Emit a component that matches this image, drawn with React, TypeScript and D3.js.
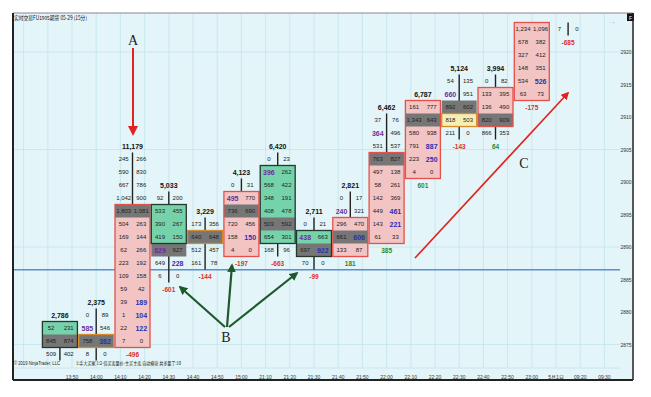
import React from "react";
import * as d3 from "d3";

// ---------- data ----------
const timeLabels = ["13:50","14:00","14:10","14:20","14:30","14:40","14:50","15:00","21:10","21:20","21:30","21:40","21:50","22:00","22:10","22:20","22:30","22:40","22:50","23:00","5月1日","09:20","09:30"];
const priceTicks = [2920, 2915, 2910, 2905, 2900, 2895, 2890, 2885, 2880, 2875];
const gridPrices = [2920, 2905, 2890, 2875];
const refLinePrice = 2886.5;
const tickSize = 2;

const barTimes = ["13:45","14:00","14:15","14:30","14:45","15:00","21:15","21:30","21:45","22:00","22:15","22:30","22:45","23:00","23:15"];
const barTotals: (number | null)[] = [2786, 2375, 11179, 5033, 3229, 4123, 6420, 2711, 2821, 6462, 6787, 5124, 3994, null, null];
const barTopPrices = [2878, 2880, 2904, 2898, 2894, 2900, 2904, 2894, 2898, 2910, 2912, 2916, 2916, 2924, 2924];
const barBids = [
  [52, 845, 509],
  [0, 585, 758, 8],
  [245, 590, 667, 1042, 1803, 504, 169, 62, 223, 109, 59, 39, 1, 22, 7],
  [92, 533, 390, 419, 829, 649, 6],
  [173, 640, 512, 161],
  [0, 495, 736, 720, 158, 4],
  [0, 396, 568, 348, 408, 503, 654, 168],
  [0, 438, 697, 70],
  [0, 240, 296, 661, 133],
  [37, 364, 531, 763, 497, 58, 142, 449, 143, 61],
  [161, 1343, 580, 791, 223, 4],
  [54, 660, 892, 818, 211],
  [0, 133, 136, 820, 866],
  [1234, 678, 327, 148, 534, 63],
  [7],
];
const barAsks = [
  [231, 874, 402],
  [89, 546, 382, 0],
  [266, 830, 786, 900, 1081, 263, 144, 266, 192, 158, 42, 189, 104, 122, 0],
  [200, 455, 267, 150, 927, 228, 0],
  [356, 648, 457, 78],
  [31, 770, 690, 456, 150, 0],
  [23, 262, 422, 191, 478, 592, 301, 96],
  [21, 663, 922, 0],
  [17, 321, 470, 606, 87],
  [76, 496, 537, 827, 138, 261, 369, 461, 221, 33],
  [777, 643, 938, 887, 250, 0],
  [135, 951, 602, 503, 0],
  [82, 395, 490, 909, 353],
  [1096, 382, 412, 351, 526, 73],
  [0],
];
const bodyHigh: (number | null)[] = [2878, 2876, 2896, 2896, 2892, 2898, 2902, 2892, 2894, 2904, 2912, 2910, 2914, 2924, null];
const bodyLow: (number | null)[] = [2876, 2876, 2876, 2892, 2892, 2890, 2892, 2890, 2890, 2892, 2902, 2910, 2910, 2914, null];
const bodyKind = ["up","doji","down","up","doji","down","up","up","down","down","down","doji","down","down","none"];
const pocPrices: (number | null)[] = [2876, 2876, 2896, 2890, 2892, 2896, 2894, 2890, 2892, 2904, 2910, 2912, 2910, null, null];
const barDeltas: (number | null)[] = [null, null, -496, -601, -144, -197, -663, -99, 181, 385, 601, -143, 64, -175, -685];
const bidImbalances: number[][] = [[], [2878], [], [2890], [], [2898], [2902], [2892], [2896], [2908], [], [2914], [], [], []];
const askImbalances: number[][] = [[], [2876], [2882, 2880, 2878], [2888], [], [2892], [], [2890], [2892], [2896, 2894], [2906, 2904], [], [], [2916], []];

// ---------- layout ----------
const W = 651, H = 397;
const P = { left: 13, top: 13, right: 633, bottom: 380 };
const plotRight = 620;
const rowH = 13;
const halfW = 17.5;

const x = d3.scaleLinear().domain([0, 22]).range([72, 604.4]);
const y = d3.scaleLinear().domain([2920, 2875]).range([55, 347.5]);
const labelShift = -3;

function slotOf(t: string) {
  const [h, m] = t.split(":").map(Number);
  const mins = h * 60 + m;
  if (mins <= 900) return (mins - 830) / 10;
  return 8 + (mins - 1270) / 10;
}

const fmt = d3.format(",");
const NUM_FONT = "'Liberation Sans', Arial, sans-serif";

const colors = {
  bg: "#e3f5f8",
  grid: "#c4e5ec",
  pink: "#f3c4c4",
  pinkStroke: "#e4514a",
  green: "#76d2aa",
  greenStroke: "#24382e",
  yellow: "#f6efb4",
  doji: "#d68a2c",
  poc: "#767676",
  text: "#222",
  purple: "#6b2fa0",
  blue: "#2b2fb5",
  red: "#e02d2d",
  darkGreen: "#2b8a2b",
};

export default function App() {
  const bars = barTimes.map((t, j) => {
    const cx = x(slotOf(t));
    const top = barTopPrices[j];
    const rows = barBids[j].map((b, i) => ({ price: top - i * tickSize, bid: b, ask: barAsks[j][i] }));
    const bottom = rows[rows.length - 1].price;
    return { j, cx, top, bottom, rows };
  });

  return (
    <svg width={W} height={H} style={{ position: "absolute", left: 0, top: 0, background: "#fff" }}>
      <defs>
        <clipPath id="plot">
          <rect x={P.left} y={P.top} width={P.right - P.left} height={P.bottom - P.top} />
        </clipPath>
        <marker id="ahRed" viewBox="0 0 10 10" refX="8" refY="5" markerWidth="5" markerHeight="5" orient="auto">
          <path d="M0,0 L10,5 L0,10 z" fill="#e3211f" />
        </marker>
        <marker id="ahGreen" viewBox="0 0 10 10" refX="8" refY="5" markerWidth="4" markerHeight="4" orient="auto">
          <path d="M0,0 L10,5 L0,10 z" fill="#1c5a2c" />
        </marker>
      </defs>
      <rect x={P.left} y={P.top} width={P.right - P.left} height={P.bottom - P.top} fill={colors.bg} />
      <g clipPath="url(#plot)">
        {/* vertical grid */}
        {d3.range(-2, 23).map((i) => (
          <line key={"vg" + i} x1={x(i)} x2={x(i)} y1={P.top} y2={368} stroke={colors.grid} strokeWidth={0.8} />
        ))}
        {gridPrices.map((p) => (
          <line key={"hg" + p} x1={P.left} x2={plotRight} y1={y(p) + labelShift} y2={y(p) + labelShift} stroke={colors.grid} strokeWidth={0.8} />
        ))}
        <line x1={P.left} x2={plotRight} y1={368} y2={368} stroke={colors.grid} strokeWidth={0.8} />
        {/* reference line */}
        <line x1={P.left} x2={plotRight} y1={y(refLinePrice) + labelShift} y2={y(refLinePrice) + labelShift} stroke="#5d8fcf" strokeWidth={1.4} />

        {/* wicks */}
        {bars.map((b) => (
          <line key={"w" + b.j} x1={b.cx} x2={b.cx} y1={y(b.top) - rowH / 2} y2={y(b.bottom) + rowH / 2} stroke="#222" strokeWidth={1.4} />
        ))}
        {/* body fills */}
        {bars.map((b) => {
          const k = bodyKind[b.j];
          if (k === "none" || bodyHigh[b.j] == null) return null;
          const fill = k === "up" ? colors.green : k === "down" ? colors.pink : colors.yellow;
          return (
            <rect key={"bf" + b.j} x={b.cx - halfW} y={y(bodyHigh[b.j]!) - rowH / 2} width={halfW * 2}
              height={y(bodyLow[b.j]!) - y(bodyHigh[b.j]!) + rowH} fill={fill} />
          );
        })}
        {/* POC rows */}
        {bars.map((b) => pocPrices[b.j] == null ? null : (
          <rect key={"poc" + b.j} x={b.cx - halfW} y={y(pocPrices[b.j]!) - rowH / 2} width={halfW * 2} height={rowH} fill={colors.poc} />
        ))}
        {/* body strokes */}
        {bars.map((b) => {
          const k = bodyKind[b.j];
          if (k === "none" || bodyHigh[b.j] == null) return null;
          const stroke = k === "up" ? colors.greenStroke : k === "down" ? colors.pinkStroke : colors.doji;
          return (
            <rect key={"bs" + b.j} x={b.cx - halfW} y={y(bodyHigh[b.j]!) - rowH / 2} width={halfW * 2}
              height={y(bodyLow[b.j]!) - y(bodyHigh[b.j]!) + rowH} fill="none" stroke={stroke} strokeWidth={1.3} />
          );
        })}
        {/* numbers */}
        {bars.map((b) => (
          <g key={"n" + b.j} fontFamily={NUM_FONT}>
            {b.rows.map((r) => {
              const bi = bidImbalances[b.j].includes(r.price);
              const ai = askImbalances[b.j].includes(r.price);
              return (
                <g key={r.price}>
                  <text x={b.cx - 8.8} y={y(r.price)} textAnchor="middle" dominantBaseline="central"
                    fontSize={bi ? 7 : 6} fontWeight={bi ? "bold" : "normal"} fill={bi ? colors.purple : colors.text}>{fmt(r.bid)}</text>
                  <text x={b.cx + 8.8} y={y(r.price)} textAnchor="middle" dominantBaseline="central"
                    fontSize={ai ? 7 : 6} fontWeight={ai ? "bold" : "normal"} fill={ai ? colors.blue : colors.text}>{fmt(r.ask)}</text>
                </g>
              );
            })}
            {barTotals[b.j] != null && (
              <text x={b.cx} y={y(b.top + tickSize)} textAnchor="middle" dominantBaseline="central" fontSize={7} fontWeight="bold" fill="#111">{fmt(barTotals[b.j]!)}</text>
            )}
            {barDeltas[b.j] != null && (
              <text x={b.cx} y={y(b.bottom - tickSize)} textAnchor="middle" dominantBaseline="central" fontSize={6.5} fontWeight="bold"
                fill={barDeltas[b.j]! < 0 ? colors.red : colors.darkGreen}>{barDeltas[b.j]}</text>
            )}
          </g>
        ))}

        {/* annotations */}
        <text x={133} y={45} textAnchor="middle" fontFamily="'Liberation Serif', serif" fontSize={14} fill="#222">A</text>
        <line x1={133} y1={48} x2={133} y2={134} stroke="#e3211f" strokeWidth={2} markerEnd="url(#ahRed)" />
        <text x={226} y={342} textAnchor="middle" fontFamily="'Liberation Serif', serif" fontSize={14} fill="#222">B</text>
        <line x1={225} y1={327} x2={180} y2={287} stroke="#1c5a2c" strokeWidth={2.2} markerEnd="url(#ahGreen)" />
        <line x1={227} y1={327} x2={232} y2={265} stroke="#1c5a2c" strokeWidth={2.2} markerEnd="url(#ahGreen)" />
        <line x1={229} y1={327} x2={297} y2={273} stroke="#1c5a2c" strokeWidth={2.2} markerEnd="url(#ahGreen)" />
        <text x={524} y={168} textAnchor="middle" fontFamily="'Liberation Serif', serif" fontSize={14} fill="#222">C</text>
        <line x1={415} y1={258} x2={568} y2={93} stroke="#e3211f" strokeWidth={1.6} markerEnd="url(#ahRed)" />

        {/* title & footer */}
        <text x={14} y={20} fontFamily="'Noto Sans CJK SC', sans-serif" fontSize={5.5} textLength={73} lengthAdjust="spacingAndGlyphs" fill="#111">实时交易FU1905期货 05-29 (15分)</text>
        <text x={14} y={365} fontFamily={NUM_FONT} fontSize={5} textLength={46} lengthAdjust="spacingAndGlyphs" fill="#222">© 2019 NinjaTrader, LLC</text>
        <text x={76} y={365} fontFamily="'Noto Sans CJK SC', sans-serif" fontSize={5} textLength={105} lengthAdjust="spacingAndGlyphs" fill="#222">1:手大买家 1:2-倍买卖量价-主买主卖 自动横块 共多量了:10</text>
        <text x={612} y={24} textAnchor="middle" fontFamily={NUM_FONT} fontSize={8} fill="#b8c8cc">→</text>
      </g>

      {/* axes labels */}
      {priceTicks.map((p) => (
        <text key={"pt" + p} x={626} y={y(p) + labelShift} textAnchor="middle" dominantBaseline="central" fontFamily={NUM_FONT} fontSize={5} fill="#333">{p}</text>
      ))}
      {timeLabels.map((t, i) => (
        <text key={"tl" + i} x={x(i)} y={377} textAnchor="middle" dominantBaseline="central" fontFamily={NUM_FONT} fontSize={5} fill="#333">{t}</text>
      ))}
      <rect x={627} y={13} width={7} height={8} fill="#111" />
      <text x={630.5} y={17.5} textAnchor="middle" dominantBaseline="central" fontFamily={NUM_FONT} fontSize={5} fill="#fff">F</text>

      {/* frame */}
      <line x1={P.left} x2={P.right} y1={P.top} y2={P.top} stroke="#888" strokeWidth={1} />
      <line x1={P.left} x2={P.left} y1={P.top} y2={P.bottom} stroke="#222" strokeWidth={2} />
      <line x1={P.left} x2={P.right} y1={P.bottom} y2={P.bottom} stroke="#222" strokeWidth={2} />
      <line x1={P.right} x2={P.right} y1={P.top} y2={P.bottom} stroke="#222" strokeWidth={1.5} />
    </svg>
  );
}
